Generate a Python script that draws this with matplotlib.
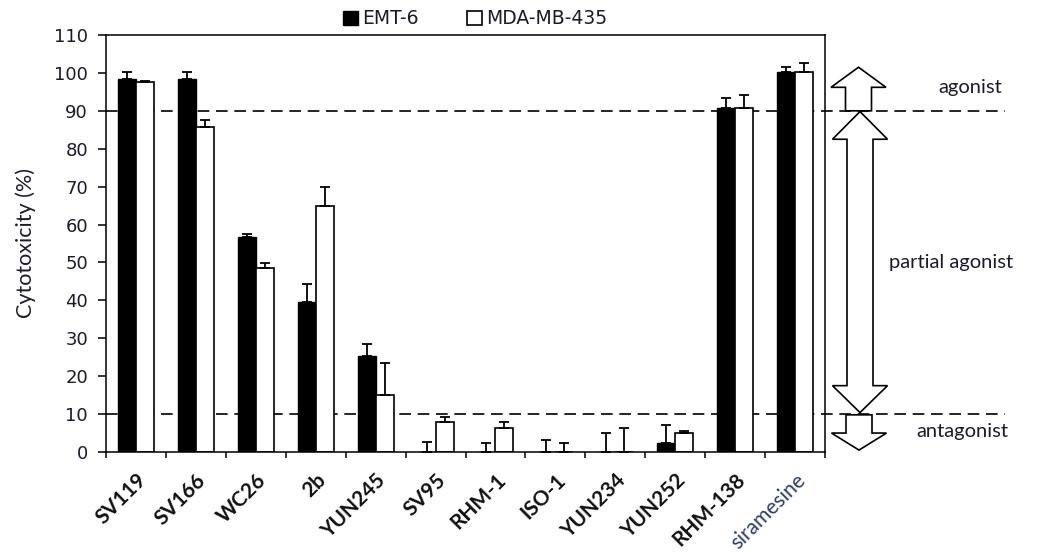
import numpy as np
import matplotlib
matplotlib.use('Agg')
import matplotlib.pyplot as plt
from matplotlib.patches import Polygon
import matplotlib.transforms as mtransforms

# data
compounds = ['SV119', 'SV166', 'WC26', '2b', 'YUN245', 'SV95', 'RHM-1', 'ISO-1',
             'YUN234', 'YUN252', 'RHM-138', 'siramesine']
emt6 = [98.4, 98.4, 56.8, 39.6, 25.4, 0, 0, 0, 0, 2.3, 90.7, 100.3]
emt6_err = [1.9, 1.9, 0.8, 4.8, 3.2, 2.7, 2.3, 3.2, 4.9, 4.9, 2.7, 1.2]
mda = [97.5, 85.8, 48.6, 64.9, 15.0, 7.8, 6.3, 0, 0, 5.1, 90.7, 100.3]
mda_err = [0.4, 1.7, 1.3, 4.9, 8.5, 1.4, 1.5, 2.3, 6.3, 0.4, 3.6, 2.2]

fig = plt.figure(figsize=(10.41, 5.58), dpi=100)
ax = fig.add_axes([106/1041, 1-452/558, 719/1041, 417/558])

x = np.arange(len(compounds))
w = 0.3
b1 = ax.bar(x - w/2, emt6, w, color='black', edgecolor='black', linewidth=1.0, label='EMT-6', zorder=2)
b2 = ax.bar(x + w/2, mda, w, color='white', edgecolor='black', linewidth=1.2, label='MDA-MB-435', zorder=2)
ax.errorbar(x - w/2, emt6, yerr=[np.zeros(len(x)), emt6_err], fmt='none', ecolor='black',
            elinewidth=1.3, capsize=3.3, capthick=1.3, zorder=3)
ax.errorbar(x + w/2, mda, yerr=[np.zeros(len(x)), mda_err], fmt='none', ecolor='black',
            elinewidth=1.3, capsize=3.3, capthick=1.3, zorder=3)

ax.set_xlim(-0.5, len(x) - 0.5)
ax.set_ylim(0, 110)
ax.set_yticks(np.arange(0, 111, 10))
for lab in ax.get_yticklabels():
    lab.set_fontfamily('DejaVu Sans')
    lab.set_fontsize(13)
    lab.set_color('#1a1a2a')
ax.tick_params(axis='y', direction='out', length=6, width=1.1, pad=7)

ax.set_xticks(x)
ax.set_xticklabels(compounds)
ax.set_xticks(np.arange(-0.5, len(x), 1), minor=True)
ax.tick_params(axis='x', which='major', length=0, pad=18)
ax.tick_params(axis='x', which='minor', direction='out', length=4.5, width=1.1)
offset = mtransforms.ScaledTranslation(7/100, 0, fig.dpi_scale_trans)
for lab in ax.get_xticklabels():
    lab.set_rotation(45)
    lab.set_ha('right')
    lab.set_va('center')
    lab.set_rotation_mode('anchor')
    lab.set_fontfamily('Lato')
    lab.set_fontsize(15)
    lab.set_transform(lab.get_transform() + offset)
    if lab.get_text() == 'siramesine':
        lab.set_fontweight('normal')
        lab.set_color('#2b3b6b')
    else:
        lab.set_fontweight('bold')
        lab.set_color('#111111')

for s in ax.spines.values():
    s.set_linewidth(1.1)

ax.set_ylabel('Cytotoxicity (%)', fontfamily='Lato', fontsize=15.5, color='#1a1a2a', labelpad=13)

# threshold lines reaching into the right-hand panel
trans = mtransforms.blended_transform_factory(ax.transAxes, ax.transData)
for yv in (90, 10):
    ax.plot([0, 1.25], [yv, yv], transform=trans, color='black', lw=1.2,
            dashes=(7, 4), clip_on=False, zorder=1)

def px(p):
    return (p - 106) / 719

def arrow_up(cx, y0, yb, yt, hs, hh):
    return [(px(cx - hs), y0), (px(cx - hs), yb), (px(cx - hh), yb), (px(cx), yt),
            (px(cx + hh), yb), (px(cx + hs), yb), (px(cx + hs), y0)]

arrows = [
    arrow_up(858.5, 90, 96.2, 101.5, 13, 27.5),
    [(px(860 - 13), 17.5), (px(860 - 13), 82.5), (px(860 - 27.5), 82.5), (px(860), 89.8),
     (px(860 + 27.5), 82.5), (px(860 + 13), 82.5), (px(860 + 13), 17.5), (px(860 + 27.5), 17.5),
     (px(860), 10.4), (px(860 - 27.5), 17.5)],
    [(px(859 - 13), 9.8), (px(859 - 13), 5), (px(859 - 27.5), 5), (px(859), 0.5),
     (px(859 + 27.5), 5), (px(859 + 13), 5), (px(859 + 13), 9.8)],
]
for pts in arrows:
    ax.add_patch(Polygon(pts, closed=True, facecolor='white', edgecolor='black', lw=1.2,
                         transform=trans, clip_on=False, zorder=4))

for txt, cx, yv in (('agonist', 970, 96.2), ('partial agonist', 951, 50), ('antagonist', 962, 5.3)):
    ax.text(px(cx), yv, txt, transform=trans, ha='center', va='center',
            fontfamily='Lato', fontsize=14.5, color='#1a1a2a')

leg = ax.legend(handles=[b1, b2], ncol=2, loc='center', bbox_to_anchor=(0.513, 1.0 + 16/417),
                frameon=False, handlelength=0.8, handleheight=0.8, handletextpad=0.2,
                columnspacing=2.6, borderpad=0, prop={'family': 'DejaVu Sans', 'size': 13.5})
for t in leg.get_texts():
    t.set_color('#1a1a2a')

fig.savefig('out.png', dpi=100)
